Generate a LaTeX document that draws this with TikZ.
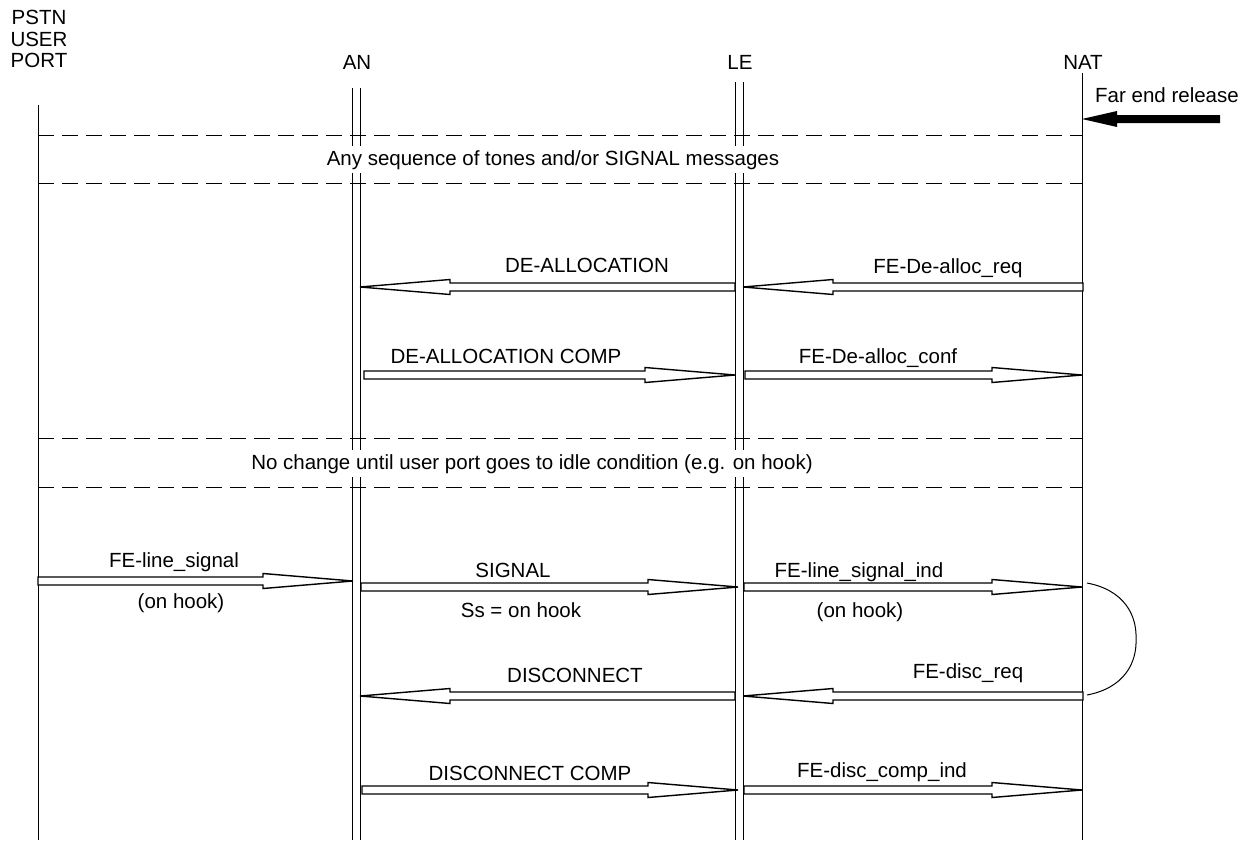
\documentclass[tikz,border=0pt]{standalone}
\usepackage{fontspec}
\setmainfont{Liberation Sans}
\usetikzlibrary{calc}
\tikzset{
  lbl/.style={anchor=base, inner sep=0pt, font=\fontsize{20.5}{21.5}\selectfont},
  blocklbl/.style={lbl, fill=white, inner xsep=0pt, inner ysep=4pt},
  life/.style={line width=1pt},
  sepline/.style={line width=1pt, dash pattern=on 16pt off 8pt},
  msgline/.style={line width=1.4pt, fill=white, line join=miter},
  bigarrow/.style={fill=black, draw=none},
}
\newcommand\msgR[2]{\draw[msgline] let \p1=(#1), \p2=(#2) in
  (\x1,\y1+4pt) -- (\x2-90pt,\y1+4pt) -- (\x2-90pt,\y1+7.5pt) -- (\x2,\y1)
  -- (\x2-90pt,\y1-7.5pt) -- (\x2-90pt,\y1-4pt) -- (\x1,\y1-4pt) -- cycle;}
\newcommand\msgL[2]{\draw[msgline] let \p1=(#1), \p2=(#2) in
  (\x1,\y1+4pt) -- (\x2+90pt,\y1+4pt) -- (\x2+90pt,\y1+7.5pt) -- (\x2,\y1)
  -- (\x2+90pt,\y1-7.5pt) -- (\x2+90pt,\y1-4pt) -- (\x1,\y1-4pt) -- cycle;}
\begin{document}
\begin{tikzpicture}[x=1pt, y=-1pt]
\useasboundingbox (0,0) rectangle (1253,846);

% headers
\node[lbl, anchor=north, align=center] (pstn) at (39,10) {PSTN\\USER\\PORT};
\node[lbl] (an) at (357,69) {AN};
\node[lbl] (le) at (740,69) {LE};
\node[lbl] (nat) at (1083,69) {NAT};

% lifelines
\coordinate (pT) at (38,105);  \coordinate (pB) at (38,840);
\coordinate (a1T) at (352,88); \coordinate (a1B) at (352,840);
\coordinate (a2T) at (360,88); \coordinate (a2B) at (360,840);
\coordinate (l1T) at (735,82); \coordinate (l1B) at (735,840);
\coordinate (l2T) at (743,82); \coordinate (l2B) at (743,840);
\coordinate (nT) at (1082,73); \coordinate (nB) at (1082,840);
\draw[life] (pT) -- (pB);
\draw[life] (a1T) -- (a1B);
\draw[life] (a2T) -- (a2B);
\draw[life] (l1T) -- (l1B);
\draw[life] (l2T) -- (l2B);
\draw[life] (nT) -- (nB);

% far end release
\node[lbl] (fer) at (1167,102) {Far end release};
\coordinate (ferS) at (1220,119); \coordinate (ferE) at (1082,119);
\fill[bigarrow] let \p1=(ferS), \p2=(ferE) in
  (\x1,\y1+4pt) -- (\x2+35pt,\y1+4pt) -- (\x2+35pt,\y1+8pt) -- (\x2,\y1)
  -- (\x2+35pt,\y1-8pt) -- (\x2+35pt,\y1-4pt) -- (\x1,\y1-4pt) -- cycle;

% separators
\coordinate (s1L) at (38,135); \coordinate (s1R) at (1082,135);
\coordinate (s2L) at (38,183); \coordinate (s2R) at (1082,183);
\coordinate (s3L) at (38,438); \coordinate (s3R) at (1082,438);
\coordinate (s4L) at (38,487); \coordinate (s4R) at (1082,487);
\draw[sepline] (s1L) -- (s1R);
\draw[sepline] (s2L) -- (s2R);
\draw[sepline] (s3L) -- (s3R);
\draw[sepline] (s4L) -- (s4R);
\node[blocklbl] (seq) at (553,165) {Any sequence of tones and/or SIGNAL messages};
\node[blocklbl] (nochg) at (532,469) {No change until user port goes to idle condition (e.g. on hook)};

% messages
\coordinate (m1s) at (735,287);  \coordinate (m1e) at (360,287);
\coordinate (m2s) at (1083,287); \coordinate (m2e) at (743,287);
\coordinate (m3s) at (364,375);  \coordinate (m3e) at (735,375);
\coordinate (m4s) at (745,375);  \coordinate (m4e) at (1082,375);
\coordinate (m5s) at (38,581);   \coordinate (m5e) at (353,581);
\coordinate (m6s) at (361,587);  \coordinate (m6e) at (738,587);
\coordinate (m7s) at (744,587);  \coordinate (m7e) at (1082,587);
\coordinate (m8s) at (735,696);  \coordinate (m8e) at (360,696);
\coordinate (m9s) at (1083,696); \coordinate (m9e) at (743,696);
\coordinate (m10s) at (362,790); \coordinate (m10e) at (738,790);
\coordinate (m11s) at (744,790); \coordinate (m11e) at (1082,790);

\msgL{m1s}{m1e}
\msgL{m2s}{m2e}
\msgR{m3s}{m3e}
\msgR{m4s}{m4e}
\msgR{m5s}{m5e}
\msgR{m6s}{m6e}
\msgR{m7s}{m7e}
\msgL{m8s}{m8e}
\msgL{m9s}{m9e}
\msgR{m10s}{m10e}
\msgR{m11s}{m11e}

\node[lbl] (t1) at (587,272) {DE-ALLOCATION};
\node[lbl] (t2) at (948,273) {FE-De-alloc\_req};
\node[lbl] (t3) at (506,363) {DE-ALLOCATION COMP};
\node[lbl] (t4) at (878,363) {FE-De-alloc\_conf};
\node[lbl] (t5) at (174,567) {FE-line\_signal};
\node[lbl] (t5b) at (181,608) {(on hook)};
\node[lbl] (t6) at (513,577) {SIGNAL};
\node[lbl] (t6b) at (521,617) {Ss = on hook};
\node[lbl] (t7) at (859,577) {FE-line\_signal\_ind};
\node[lbl] (t7b) at (860,617) {(on hook)};
\node[lbl] (t8) at (575,682) {DISCONNECT};
\node[lbl] (t9) at (968,678) {FE-disc\_req};
\node[lbl] (t10) at (530,780) {DISCONNECT COMP};
\node[lbl] (t11) at (882,777) {FE-disc\_comp\_ind};

% arc linking FE-line_signal_ind and FE-disc_req
\coordinate (arcA) at (1087,583);
\coordinate (arcB) at (1087,695);
\draw[line width=1pt] (arcA) .. controls (1124,590) and (1137,615) .. (1136,639)
  .. controls (1137,663) and (1124,688) .. (arcB);
\end{tikzpicture}
\end{document}
